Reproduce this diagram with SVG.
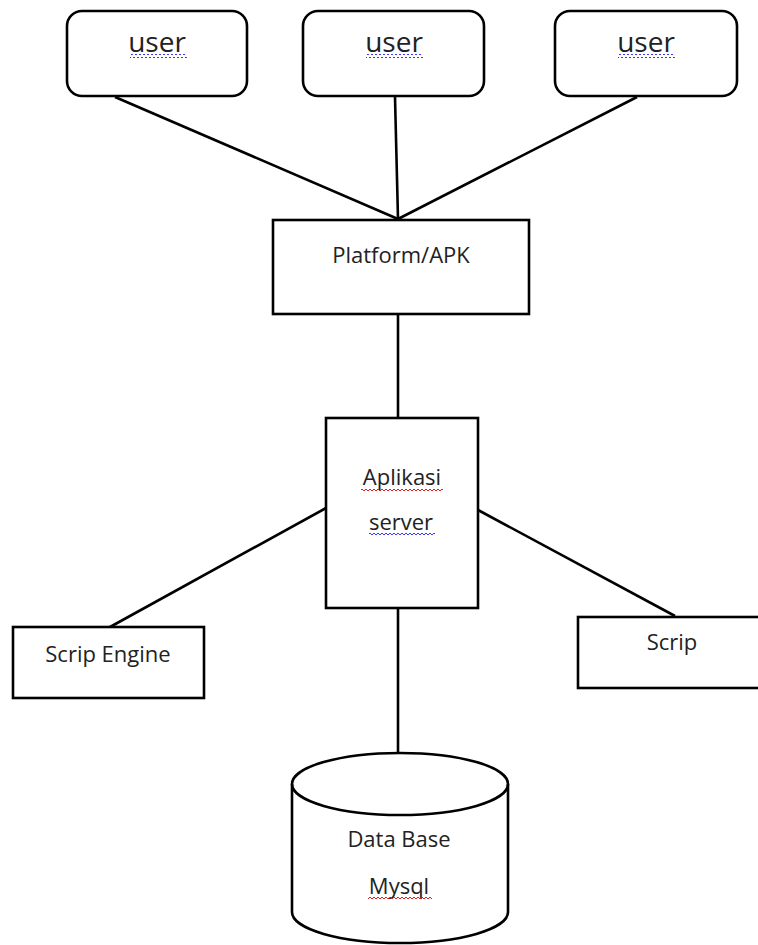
<svg xmlns="http://www.w3.org/2000/svg" width="758" height="945" viewBox="0 0 758 945">
<style>
.box{fill:#fff;stroke:#000;stroke-width:2.6}
.ln{stroke:#000;stroke-width:2.6;fill:none}
.t{font-family:"Open Sans","Noto Sans",sans-serif;fill:#222;text-anchor:middle}
.big{font-size:28px}
.md{font-size:22px}
</style>
<defs>
<pattern id="wb" patternUnits="userSpaceOnUse" width="4" height="4"><path d="M0,3 L2,1 L4,3" stroke="#3a3aff" stroke-width="1" fill="none"/></pattern>
<pattern id="wr" patternUnits="userSpaceOnUse" width="4" height="4"><path d="M0,3 L2,1 L4,3" stroke="#e02020" stroke-width="1" fill="none"/></pattern>
</defs>
<rect width="758" height="945" fill="#fff"/>
<g id="connectors">
<line class="ln" x1="115" y1="97" x2="398" y2="219"/>
<line class="ln" x1="395" y1="97" x2="398" y2="219"/>
<line class="ln" x1="637" y1="97" x2="398" y2="219"/>
<line class="ln" x1="398" y1="314" x2="398" y2="418"/>
<line class="ln" x1="326" y1="508" x2="110" y2="627"/>
<line class="ln" x1="478" y1="510" x2="675" y2="616"/>
<line class="ln" x1="398" y1="608" x2="398" y2="753"/>
</g>
<g id="user1">
<rect class="box" x="67" y="11" width="180" height="85" rx="15"/>
<text class="t big" x="157" y="52">user</text>
<rect x="130" y="54" width="57" height="4" fill="url(#wb)"/>
</g>
<g id="user2">
<rect class="box" x="303" y="11" width="181" height="85" rx="15"/>
<text class="t big" x="394" y="52">user</text>
<rect x="366" y="54" width="57" height="4" fill="url(#wb)"/>
</g>
<g id="user3">
<rect class="box" x="555" y="11" width="182" height="85" rx="15"/>
<text class="t big" x="646" y="52">user</text>
<rect x="618" y="54" width="57" height="4" fill="url(#wb)"/>
</g>
<g id="platform">
<rect class="box" x="273" y="220" width="256" height="94"/>
<text class="t md" x="401" y="263">Platform/APK</text>
</g>
<g id="aplikasi-server">
<rect class="box" x="326" y="418" width="152" height="190"/>
<text class="t md" x="402" y="485">Aplikasi</text>
<rect x="361" y="487" width="82" height="4" fill="url(#wr)"/>
<text class="t md" x="401" y="530">server</text>
<rect x="369" y="532" width="66" height="4" fill="url(#wb)"/>
</g>
<g id="scrip-engine">
<rect class="box" x="13" y="627" width="191" height="71"/>
<text class="t md" x="108" y="662">Scrip Engine</text>
</g>
<g id="scrip">
<rect class="box" x="578" y="617" width="182" height="71"/>
<text class="t md" x="672" y="650">Scrip</text>
</g>
<g id="database">
<path class="box" d="M292,784 L292,912 A108,31 0 0 0 508,912 L508,784 A108,31 0 0 0 292,784 Z"/>
<path class="ln" d="M292,784 A108,31 0 0 0 508,784"/>
<text class="t md" x="399" y="847">Data Base</text>
<text class="t md" x="399" y="894">Mysql</text>
<rect x="368" y="896" width="64" height="4" fill="url(#wr)"/>
</g>
</svg>
